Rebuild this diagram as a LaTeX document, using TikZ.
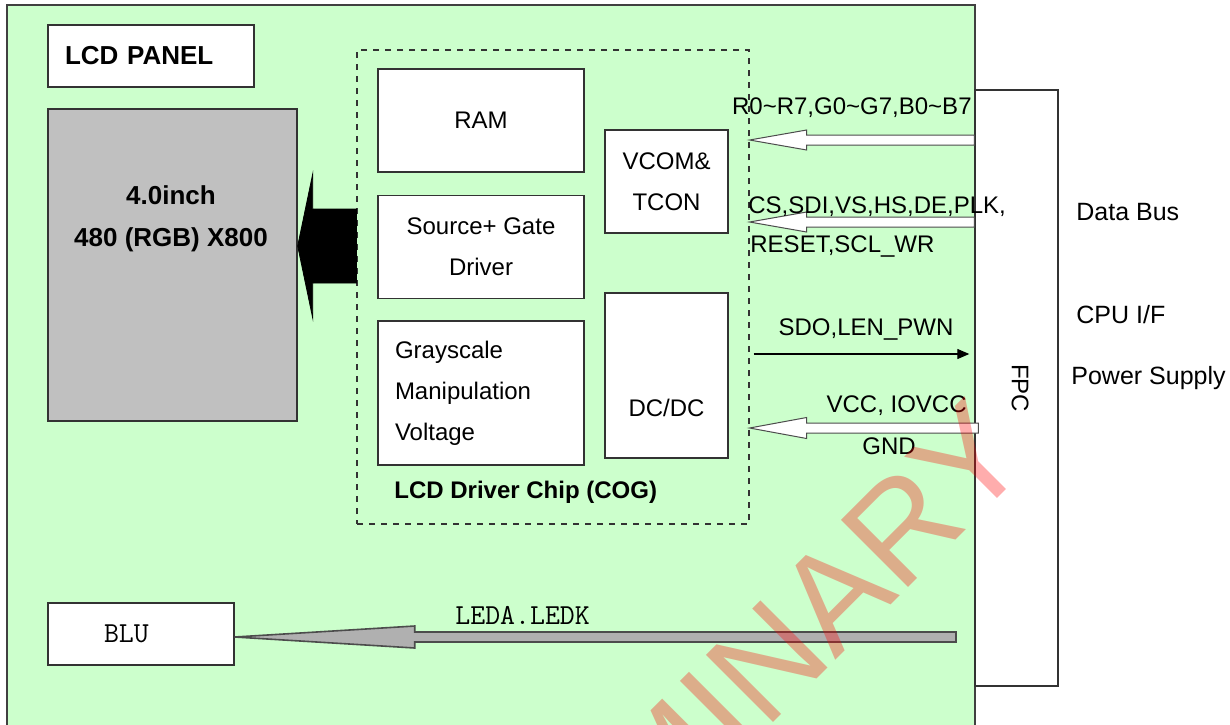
\documentclass[tikz,border=0pt]{standalone}
\usepackage{fontspec}
\setmainfont{Liberation Sans}
\usepackage{xcolor}
\usetikzlibrary{arrows.meta, calc, positioning}

\definecolor{boardgreen}{HTML}{CCFFCC}
\definecolor{glassgray}{HTML}{C0C0C0}
\definecolor{ledgray}{HTML}{B0B0B0}

% fat arrow: style, tip, tail, head length, head half width, shaft half width
\newcommand{\fatarrow}[6]{%
  \draw[#1] (#2) -- ($(#2)+(#4,#5)$) -- ($(#2)+(#4,#6)$) -- ($(#3)+(0,#6)$)
    -- ($(#3)+(0,-#6)$) -- ($(#2)+(#4,-#6)$) -- ($(#2)+(#4,-#5)$) -- cycle;}

\begin{document}
\begin{tikzpicture}[
    x=0.5pt, y=-0.5pt,
    board/.style={rectangle, draw=black!75, fill=boardgreen, line width=0.6pt},
    blk/.style={
        rectangle, draw=black!80, fill=white, line width=0.7pt,
        inner sep=0pt, align=center, font=\fontsize{12}{20.5}\selectfont
    },
    chip/.style={rectangle, draw=black!80, dashed, line width=0.6pt},
    hollow/.style={draw=black!70, fill=white, line width=0.5pt},
    ledarr/.style={draw=black!70, fill=ledgray, line width=0.8pt},
    solidarr/.style={draw=black, fill=black},
    sig/.style={-{Triangle[length=6pt, width=5pt]}, line width=0.6pt},
    siglbl/.style={inner sep=0pt, font=\fontsize{12}{14}\selectfont},
    sidelbl/.style={inner sep=0pt, anchor=west, font=\fontsize{12.5}{15}\selectfont},
    mono/.style={inner sep=0pt, font=\ttfamily\fontsize{14.5}{16}\selectfont},
    wmark/.style={inner sep=0pt, text=red, text opacity=0.32, font=\fontsize{69}{70}\selectfont}
]
    \path[use as bounding box, fill=white] (0,0) rectangle (1230,724);
    \clip (0,0) rectangle (1230,724);

    %% --- LCD panel board ---
    \node[board, minimum width=484pt, minimum height=377.5pt] (board) at (491,382.5) {};
    \node[blk, minimum width=103pt, minimum height=31pt, text width=86pt, align=left,
          font=\bfseries\fontsize{13}{16}\selectfont] (title) at (151,56) {LCD PANEL};
    \node[blk, fill=glassgray, minimum width=124.5pt, minimum height=156pt] (glass) at (172.5,265) {};
    \node[align=center, font=\bfseries\fontsize{13}{21}\selectfont] (glasstxt) at (171,219) {4.0inch\\480 (RGB) X800};

    %% --- Driver chip ---
    \node[chip, minimum width=196pt, minimum height=237pt] (chip) at (553,287) {};
    \node[blk, minimum width=103pt, minimum height=51.5pt] (ram) at (481,120.5) {RAM};
    \node[blk, minimum width=103pt, minimum height=51.5pt, below=11pt of ram] (drv) {Source+ Gate\\Driver};
    \node[blk, minimum width=103pt, minimum height=72pt, text width=86pt, align=left,
          below=10.5pt of drv] (gsv) {Grayscale\\Manipulation\\Voltage};
    \node[blk, minimum width=61.5pt, minimum height=51.5pt] (tcon) at (666.5,181.5) {VCOM\&\\TCON};
    \node[blk, minimum width=61.5pt, minimum height=82.5pt,
          label={[font=\fontsize{12}{14}\selectfont, yshift=-16pt]center:DC/DC}] (dcdc) at (666.5,375.5) {};
    \node[anchor=west, inner sep=0pt, font=\bfseries\fontsize{12}{14}\selectfont] (chiplbl) at (394,492) {LCD Driver Chip (COG)};

    %% --- FPC ---
    \node[blk, minimum width=41.5pt, minimum height=298pt] (fpc) at (1016.5,388) {};
    \node[siglbl, rotate=-90] (fpclbl) at (1020,388) {FPC};
    \node[sidelbl] (databus) at (1076,212) {Data Bus};
    \node[sidelbl] (cpuif) at (1076,315) {CPU I/F};
    \node[sidelbl] (power) at (1071,378) {Power Supply};

    %% --- Backlight ---
    \node[blk, minimum width=93pt, minimum height=31pt, text width=37pt, align=left,
          font=\ttfamily\fontsize{14.5}{16}\selectfont] (blu) at (141,634) {BLU};
    \node[mono, anchor=west] (ledlbl) at (455,615) {LEDA.LEDK};

    %% --- Signal arrows ---
    \coordinate (rgbtip)  at (chip.east |- 0,140);
    \coordinate (rgbtail) at (fpc.west |- 0,140);
    \coordinate (ctltip)  at (chip.east |- 0,222);
    \coordinate (ctltail) at (fpc.west |- 0,222);
    \coordinate (sdoout)  at (chip.east |- 0,354);
    \coordinate (sdoin)   at (fpc.west |- 0,354);
    \coordinate (pwrtip)  at (chip.east |- 0,428);
    \coordinate (pwrtail) at ($(fpc.west |- 0,428)+(4,0)$);
    \coordinate (busout)  at (glass.east |- 0,246);
    \coordinate (busin)   at (chip.west |- 0,246);
    \coordinate (ledtip)  at (blu.east |- 0,637);
    \coordinate (ledtail) at (956,637);

    \fatarrow{hollow}{rgbtip}{rgbtail}{57}{10}{5}
    \fatarrow{hollow}{ctltip}{ctltail}{57}{10}{5}
    \fatarrow{hollow}{pwrtip}{pwrtail}{57}{10.5}{5}
    \draw[sig, shorten <=2pt, shorten >=2.5pt] (sdoout) -- (sdoin);
    \fatarrow{solidarr}{busout}{busin}{15}{72}{37}
    \fatarrow{ledarr}{ledtip}{ledtail}{180}{11}{5}

    %% --- Labels ---
    \node[siglbl, anchor=east] (rgblbl) at (972,108) {R0\textasciitilde R7,G0\textasciitilde G7,B0\textasciitilde B7};
    \node[siglbl, anchor=west] (ctllbl) at (748,207) {CS,SDI,VS,HS,DE,PLK,};
    \node[siglbl, anchor=west] (rstlbl) at (750,246) {RESET,SCL\_WR};
    \node[siglbl] (sdolbl) at (866,329) {SDO,LEN\_PWN};
    \node[siglbl, anchor=east] (vcclbl) at (967,406) {VCC, IOVCC};
    \node[siglbl] (gndlbl) at (889,446) {GND};

    %% --- Watermark ---
    \node[wmark, rotate=45, anchor=base east] (prelim) at (1035,461) {PRELIMINARY};
\end{tikzpicture}
\end{document}
